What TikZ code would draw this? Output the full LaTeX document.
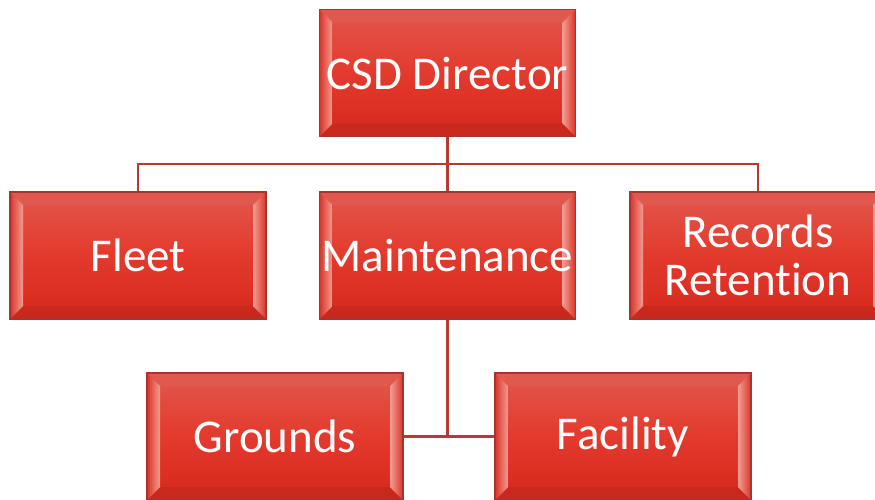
\documentclass[tikz,border=0pt]{standalone}
\usepackage{fontspec}
\setmainfont{Carlito}[Ligatures=NoCommon]
\usetikzlibrary{calc,backgrounds}

\definecolor{facetop}{HTML}{E2574D}
\definecolor{facemid}{HTML}{E33A2D}
\definecolor{facebot}{HTML}{D6281C}
\definecolor{boxedge}{HTML}{A8352D}
\definecolor{bevhi}{HTML}{F39C92}
\definecolor{bevlo}{HTML}{D93427}
\definecolor{bevtop}{HTML}{E0584E}
\definecolor{bevbot}{HTML}{C9281D}
\definecolor{linkred}{HTML}{B73A31}

\newcommand{\labelfont}{\fontsize{47pt}{48pt}\selectfont}

\tikzset{
  bevelbox/.style={
    draw=boxedge, line width=1.3pt,
    top color=facetop, bottom color=facebot, middle color=facemid,
    minimum width=256pt, minimum height=127pt, inner sep=0pt,
    text=white, font=\labelfont, align=center,
    path picture={
      % top and bottom bevel strips
      \fill[bevtop] let \p1=(path picture bounding box.south west),
                        \p2=(path picture bounding box.north east) in
        (\x1,\y2) -- (\x2,\y2) -- (\x2-13pt,\y2-13pt) -- (\x1+13pt,\y2-13pt) -- cycle;
      \fill[bevbot] let \p1=(path picture bounding box.south west),
                        \p2=(path picture bounding box.north east) in
        (\x1,\y1) -- (\x2,\y1) -- (\x2-13pt,\y1+13pt) -- (\x1+13pt,\y1+13pt) -- cycle;
      % left bevel strip, bright along its inner edge
      \shade[left color=bevlo, right color=bevhi]
        let \p1=(path picture bounding box.south west),
            \p2=(path picture bounding box.north east) in
        (\x1,\y1) -- (\x1,\y2) -- (\x1+13pt,\y2-13pt) -- (\x1+13pt,\y1+13pt) -- cycle;
      % right bevel strip, bright along its inner edge
      \shade[left color=bevhi, right color=bevlo]
        let \p1=(path picture bounding box.south west),
            \p2=(path picture bounding box.north east) in
        (\x2,\y1) -- (\x2,\y2) -- (\x2-13pt,\y2-13pt) -- (\x2-13pt,\y1+13pt) -- cycle;
    }
  },
  link/.style={draw=linkred, line width=2.6pt}
}

\begin{document}
\begin{tikzpicture}[x=1pt,y=-1pt]
  \useasboundingbox (0,0) rectangle (875,499);
  \clip (0,0) rectangle (875,499);

  % organisation boxes
  \node[bevelbox] (dir)      at (447.5,73)    {CSD Director};
  \node[bevelbox] (fleet)    at (138,255.5)   {Fleet};
  \node[bevelbox] (maint)    at (447.5,255.5) {Maintenance};
  \node[bevelbox] (rec)      at (758,255.5)   {Records\\Retention};
  \node[bevelbox] (grounds)  at (275,436.5)   {Grounds};
  \node[bevelbox] (facility) at (623,436.5)   {Facility};

  \coordinate (bus) at (447.5,164);

  % connectors behind the boxes
  \begin{scope}[on background layer]
    \draw[link] (dir.south) -- (maint.north);
    \draw[link] (fleet.north) |- (bus) -| (rec.north);
    \draw[link] (maint.south) -- (maint.south |- grounds.east);
    \draw[link] (grounds.east) -- (facility.west);
  \end{scope}
\end{tikzpicture}
\end{document}
